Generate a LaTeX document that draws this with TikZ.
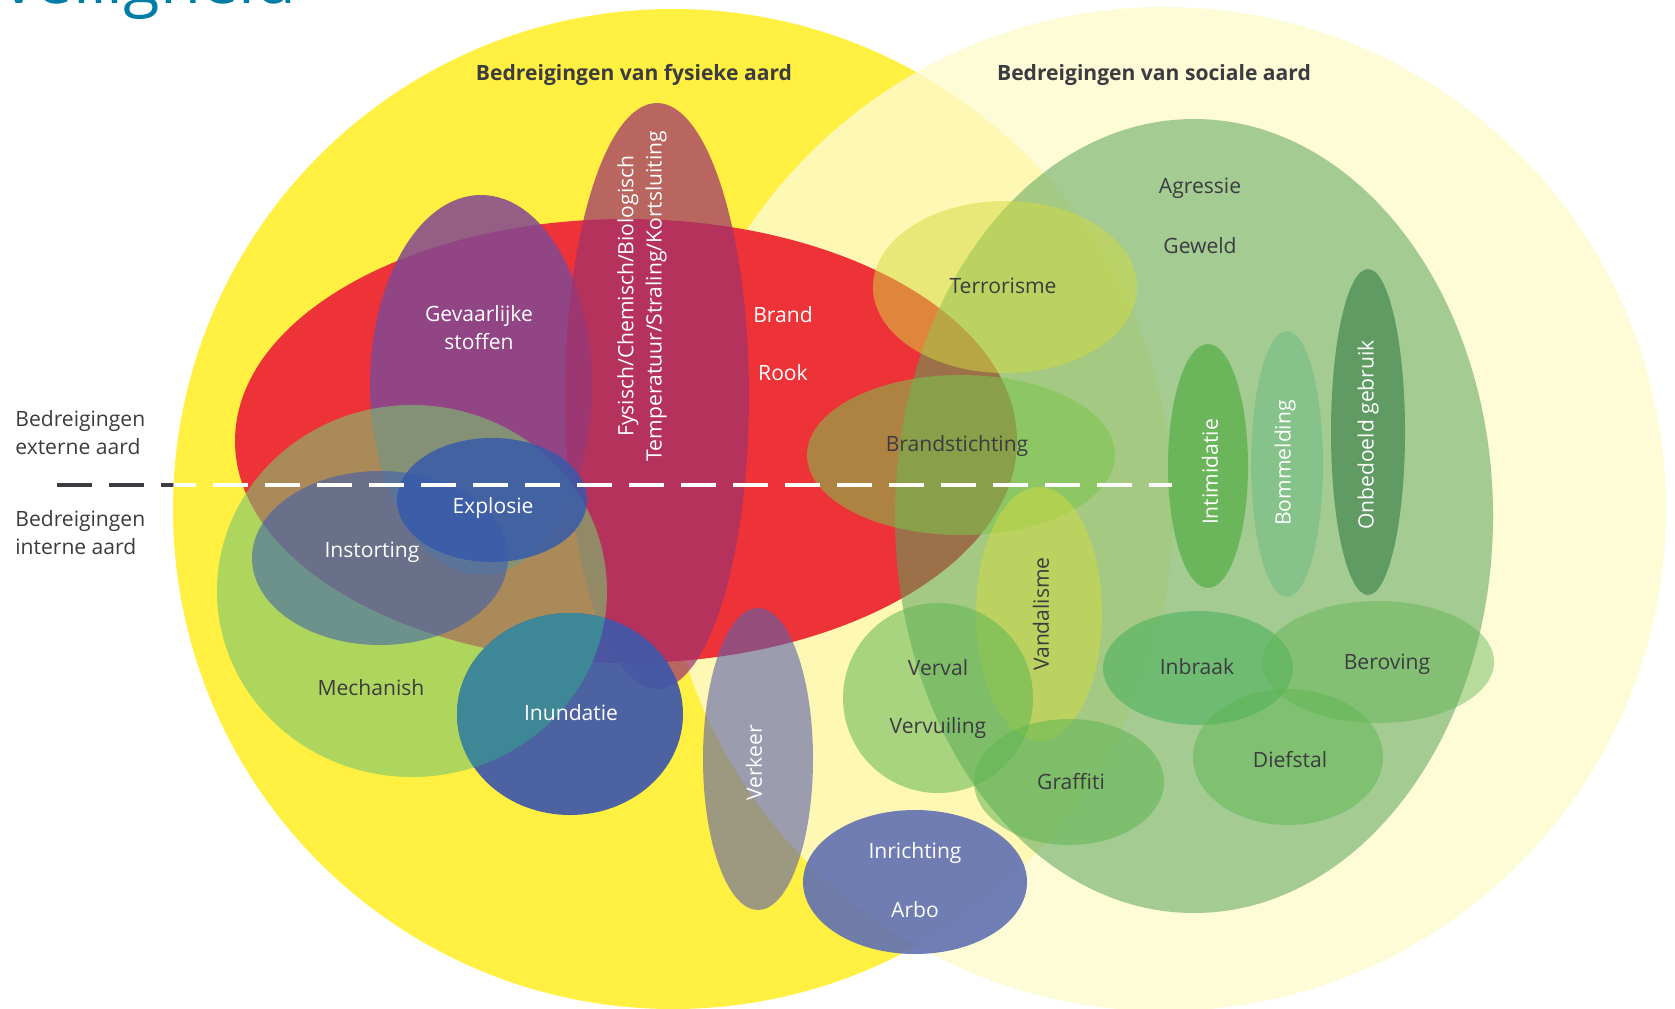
\documentclass[tikz,border=0pt]{standalone}
\usepackage{fontspec}
\setmainfont{Open Sans}
\definecolor{SunYellow}{RGB}{255,240,66}
\definecolor{PaleYellow}{RGB}{254,250,206}
\definecolor{FireRed}{RGB}{238,51,56}
\definecolor{HazardPurple}{RGB}{132,72,145}
\definecolor{RoseMauve}{RGB}{160,50,108}
\definecolor{MechGreen}{RGB}{123,197,110}
\definecolor{SlateBlue}{RGB}{56,91,180}
\definecolor{BlastBlue}{RGB}{55,90,170}
\definecolor{FloodBlue}{RGB}{62,88,170}
\definecolor{FloodTeal}{RGB}{62,135,150}
\definecolor{TrafficGrey}{RGB}{90,95,170}
\definecolor{ArboBlue}{RGB}{96,112,178}
\definecolor{SocialGreen}{RGB}{89,164,89}
\definecolor{LimeYellow}{RGB}{212,218,64}
\definecolor{ArsonGreen}{RGB}{122,198,75}
\definecolor{LeafGreen}{RGB}{94,181,81}
\definecolor{BurglarGreen}{RGB}{70,175,90}
\definecolor{BullyGreen}{RGB}{70,170,55}
\definecolor{MintGreen}{RGB}{110,190,135}
\definecolor{MisuseGreen}{RGB}{60,130,75}
\definecolor{InkGray}{RGB}{60,60,64}
\definecolor{TitleBlue}{RGB}{0,125,165}
\usepackage{tikz}

\begin{document}
\begin{tikzpicture}[
  x=0.02cm, y=-0.02cm,
  inktext/.style={
    font=\fontsize{12}{16}\selectfont,
    text=InkGray, align=center, inner sep=0pt
  },
  paletext/.style={inktext, text=white},
  headtext/.style={inktext, font=\fontsize{12}{16}\selectfont\bfseries},
  divider/.style={line width=2.3pt, dash pattern=on 0.7cm off 0.34cm}
]
  \useasboundingbox (0,0) rectangle (1675,1008);

  % Page title, cut off by the top edge
  \node[font=\fontsize{38}{40}\selectfont, text=TitleBlue,
    anchor=base east, inner sep=0pt] (title) at (297,3) {veiligheid};

  % Divider external / internal (dark where it lies on the paper)
  \coordinate (divL) at (57,485);
  \coordinate (divR) at (1172,485);
  \draw[divider, InkGray] (divL) -- (divR);

  % Physical and social circles
  \fill[SunYellow] (673,509) circle [radius=500];
  \fill[PaleYellow, fill opacity=.82] (1164,509) circle [radius=502];

  % Physical threats
  \fill[FireRed] (626,441) ellipse [x radius=391, y radius=222];
  \fill[HazardPurple, fill opacity=.86]
    (481,385) ellipse [x radius=111, y radius=190];
  \fill[RoseMauve, fill opacity=.72]
    (657,396) ellipse [x radius=92, y radius=293];
  \fill[MechGreen, fill opacity=.6]
    (412,591) ellipse [x radius=195, y radius=186];
  \fill[SlateBlue, fill opacity=.55]
    (380,558) ellipse [x radius=128, y radius=87];
  \fill[BlastBlue, fill opacity=.85]
    (492,500) ellipse [x radius=95, y radius=62];

  % Inundatie: teal where it meets Mechanish
  \fill[FloodBlue, fill opacity=.92]
    (570,714) ellipse [x radius=113, y radius=101];
  \begin{scope}
    \clip (412,591) ellipse [x radius=195, y radius=186];
    \fill[FloodTeal] (570,714) ellipse [x radius=113, y radius=101];
  \end{scope}

  \fill[TrafficGrey, fill opacity=.6]
    (758,759) ellipse [x radius=55, y radius=151];
  \fill[ArboBlue, fill opacity=.9]
    (915,882) ellipse [x radius=112, y radius=72];

  % Social threats
  \fill[SocialGreen, fill opacity=.55]
    (1194,516) ellipse [x radius=299, y radius=397];
  \fill[LimeYellow, fill opacity=.5]
    (1005,287) ellipse [x radius=132, y radius=86];
  \fill[ArsonGreen, fill opacity=.55]
    (961,455) ellipse [x radius=154, y radius=80];
  \fill[LimeYellow, fill opacity=.5]
    (1039,614) ellipse [x radius=63, y radius=127];
  \fill[LeafGreen, fill opacity=.53]
    (938,698) circle [radius=95];
  \fill[LeafGreen, fill opacity=.53]
    (1069,782) ellipse [x radius=95, y radius=63];
  \fill[BurglarGreen, fill opacity=.55]
    (1198,668) ellipse [x radius=95, y radius=57];
  \fill[LeafGreen, fill opacity=.45]
    (1378,662) ellipse [x radius=116, y radius=61];
  \fill[LeafGreen, fill opacity=.5]
    (1288,757) ellipse [x radius=95, y radius=68];
  \fill[BullyGreen, fill opacity=.6]
    (1208,466) ellipse [x radius=40, y radius=122];
  \fill[MintGreen, fill opacity=.55]
    (1287,464) ellipse [x radius=36, y radius=133];
  \fill[MisuseGreen, fill opacity=.65]
    (1368,432) ellipse [x radius=37, y radius=163];

  % Divider, white part on the diagram
  \begin{scope}
    \clip (673,509) circle [radius=500];
    \draw[divider, white] (divL) -- (divR);
  \end{scope}

  % Headings
  \node[headtext] (physhead) at (634,75) {Bedreigingen van fysieke aard};
  \node[headtext] (sochead) at (1154,75) {Bedreigingen van sociale aard};
  \node[inktext, align=left, anchor=west] (extern) at (15,433)
    {Bedreigingen\\externe aard};
  \node[inktext, align=left, anchor=west] (intern) at (15,533)
    {Bedreigingen\\interne aard};

  % Labels, physical side
  \node[paletext] (stoffen) at (479,328) {Gevaarlijke\\stoffen};
  \node[paletext, rotate=90] (fysisch) at (642,296)
    {Fysisch/Chemisch/Biologisch\\Temperatuur/Straling/Kortsluiting};
  \node[paletext] (brand) at (783,315) {Brand};
  \node[paletext] (rook) at (783,373) {Rook};
  \node[paletext] (explosie) at (493,508) {Explosie};
  \node[paletext] (instort) at (372,552) {Instorting};
  \node[inktext] (mechan) at (371,688) {Mechanish};
  \node[paletext] (inund) at (571,713) {Inundatie};
  \node[paletext, rotate=90] (verkeer) at (754,763) {Verkeer};
  \node[paletext] (inricht) at (915,853) {Inrichting};
  \node[paletext] (arbo) at (915,910) {Arbo};

  % Labels, social side
  \node[inktext] (agressie) at (1200,188) {Agressie};
  \node[inktext] (geweld) at (1200,246) {Geweld};
  \node[inktext] (terror) at (1003,286) {Terrorisme};
  \node[inktext] (arson) at (957,446) {Brandstichting};
  \node[paletext, rotate=90] (intimid) at (1210,472) {Intimidatie};
  \node[paletext, rotate=90] (bomb) at (1285,463) {Bommelding};
  \node[paletext, rotate=90] (misuse) at (1368,435) {Onbedoeld gebruik};
  \node[inktext, rotate=90] (vandal) at (1041,614) {Vandalisme};
  \node[inktext] (verval) at (938,668) {Verval};
  \node[inktext] (vervuil) at (938,728) {Vervuiling};
  \node[inktext] (graffiti) at (1071,782) {Graffiti};
  \node[inktext] (inbraak) at (1197,667) {Inbraak};
  \node[inktext] (beroving) at (1387,664) {Beroving};
  \node[inktext] (diefstal) at (1290,760) {Diefstal};
\end{tikzpicture}
\end{document}
